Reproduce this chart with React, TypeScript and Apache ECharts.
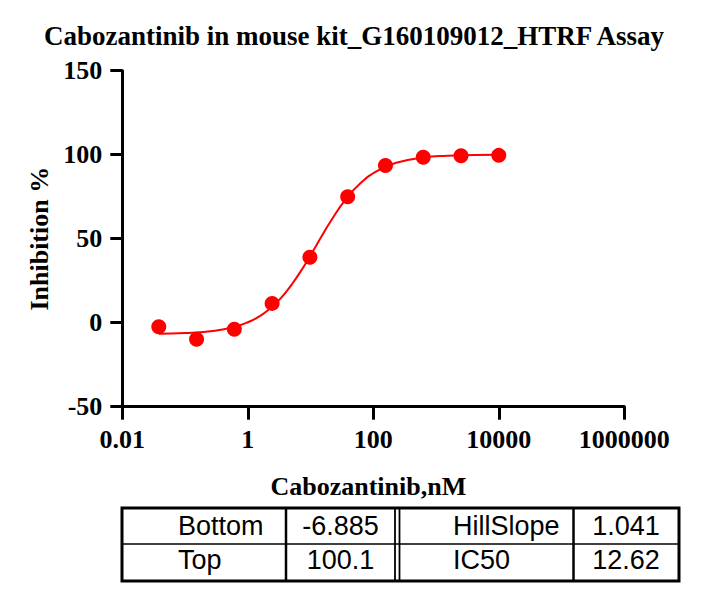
import React, { useEffect, useRef } from 'react'
import * as echarts from 'echarts'

const titleText = 'Cabozantinib in mouse kit_G160109012_HTRF Assay'
const xAxisName = 'Cabozantinib,nM'
const yAxisName = 'Inhibition %'

// measured points (4-fold dilution from 10000 nM)
const concentrations = [0.03815, 0.1526, 0.6104, 2.441, 9.766, 39.06, 156.25, 625, 2500, 10000]
const inhibition = [-2.4, -9.9, -3.9, 11.5, 38.9, 75.0, 93.5, 98.5, 99.4, 99.6]

// fitted curve
const fitX = [0.038, 0.1, 0.3, 0.6, 1, 1.5, 2, 3, 4, 5, 7, 10, 12.62, 15, 20, 35, 60, 120, 250, 600, 1500, 4000, 10000]
const fitY = [-6.63, -6.19, -4.74, -2.58, 0.25, 3.62, 6.81, 12.7, 17.96, 22.65, 30.71, 40.16, 46.61, 51.41, 59.19, 72.61, 82.47, 90.74, 95.52, 98.22, 99.37, 99.83, 99.99]

const xTickValues = [0.01, 1, 100, 10000, 1000000]
const xTickLabels = ['0.01', '1', '100', '10000', '1000000']

const tableRows = [
  ['Bottom', '-6.885', 'HillSlope', '1.041'],
  ['Top', '100.1', 'IC50', '12.62'],
]

const serif = '"Liberation Serif", "Times New Roman", serif'
const sans = '"Liberation Sans", Arial, sans-serif'
const red = '#ff0000'

const App: React.FC = () => {
  const chartRef = useRef<HTMLDivElement>(null)

  useEffect(() => {
    if (!chartRef.current) return
    const chart = echarts.init(chartRef.current, undefined, { renderer: 'svg' })

    // table layout
    const tLeft = 122
    const tRight = 679
    const tTop = 508
    const tBottom = 581
    const tMid = 544
    const colLines = [286, 573.5]
    const dblLines = [395, 399.5]
    const rowY = [526, 560]
    const cellX = [178, 340.5, 453, 626]
    const cellAlign = ['left', 'center', 'left', 'center']

    const tableGraphics: any[] = [
      {
        type: 'rect',
        shape: { x: tLeft, y: tTop, width: tRight - tLeft, height: tBottom - tTop },
        style: { fill: 'none', stroke: '#000', lineWidth: 3 },
      },
      {
        type: 'line',
        shape: { x1: tLeft, y1: tMid, x2: tRight, y2: tMid },
        style: { stroke: '#000', lineWidth: 1.5 },
      },
      ...colLines.map((x) => ({
        type: 'line',
        shape: { x1: x, y1: tTop, x2: x, y2: tBottom },
        style: { stroke: '#000', lineWidth: 2.5 },
      })),
      ...dblLines.map((x) => ({
        type: 'line',
        shape: { x1: x, y1: tTop, x2: x, y2: tBottom },
        style: { stroke: '#000', lineWidth: 1.8 },
      })),
    ]
    tableRows.forEach((row, r) => {
      row.forEach((txt, c) => {
        tableGraphics.push({
          type: 'text',
          x: cellX[c],
          y: rowY[r],
          style: {
            text: txt,
            font: `27px ${sans}`,
            fill: '#000',
            align: cellAlign[c],
            verticalAlign: 'middle',
            textAlign: cellAlign[c],
            textVerticalAlign: 'middle',
          },
        })
      })
    })

    const option: echarts.EChartsOption = {
      animation: false,
      backgroundColor: '#fff',
      title: {
        text: titleText,
        left: 354,
        top: 22,
        textAlign: 'center',
        padding: 0,
        textStyle: { fontFamily: serif, fontWeight: 'bold', fontSize: 27, color: '#000' },
      },
      grid: { left: 122.3, right: 80.7, top: 70.7, bottom: 191.3 },
      xAxis: {
        type: 'log',
        logBase: 100,
        min: 0.01,
        max: 1000000,
        splitNumber: 4,
        name: xAxisName,
        nameLocation: 'middle',
        nameGap: 67,
        nameTextStyle: {
          fontFamily: serif,
          fontWeight: 'bold',
          fontSize: 26,
          color: '#000',
          padding: [0, 10, 0, 0],
        },
        axisLine: { onZero: false, lineStyle: { color: '#000', width: 3 } },
        axisTick: { length: 13, lineStyle: { color: '#000', width: 3 } },
        minorTick: { show: false },
        splitLine: { show: false },
        axisLabel: {
          margin: 20,
          fontFamily: serif,
          fontWeight: 'bold',
          fontSize: 26,
          color: '#000',
          formatter: (v: number) => {
            let best = 0
            xTickValues.forEach((t, i) => {
              if (Math.abs(Math.log10(t) - Math.log10(v)) < Math.abs(Math.log10(xTickValues[best]) - Math.log10(v))) best = i
            })
            return xTickLabels[best]
          },
        },
      },
      yAxis: {
        type: 'value',
        min: -50,
        max: 150,
        interval: 50,
        name: yAxisName,
        nameLocation: 'middle',
        nameGap: 70,
        nameTextStyle: { fontFamily: serif, fontWeight: 'bold', fontSize: 26, color: '#000' },
        axisLine: { show: true, onZero: false, lineStyle: { color: '#000', width: 3 } },
        axisTick: { show: true, length: 12, lineStyle: { color: '#000', width: 3 } },
        splitLine: { show: false },
        axisLabel: {
          margin: 20,
          fontFamily: serif,
          fontWeight: 'bold',
          fontSize: 26,
          color: '#000',
        },
      },
      series: [
        {
          type: 'line',
          data: fitX.map((x, i) => [x, fitY[i]]),
          smooth: true,
          showSymbol: false,
          lineStyle: { color: red, width: 2 },
          z: 2,
        },
        {
          type: 'scatter',
          data: concentrations.map((x, i) => [x, inhibition[i]]),
          symbol: 'circle',
          symbolSize: 15,
          itemStyle: { color: red, opacity: 1 },
          z: 3,
        },
      ],
      graphic: tableGraphics,
    }

    chart.setOption(option)
    return () => {
      chart.dispose()
    }
  }, [])

  return <div ref={chartRef} style={{ position: 'absolute', left: 0, top: 0, width: 705, height: 598 }} />
}

export default App
